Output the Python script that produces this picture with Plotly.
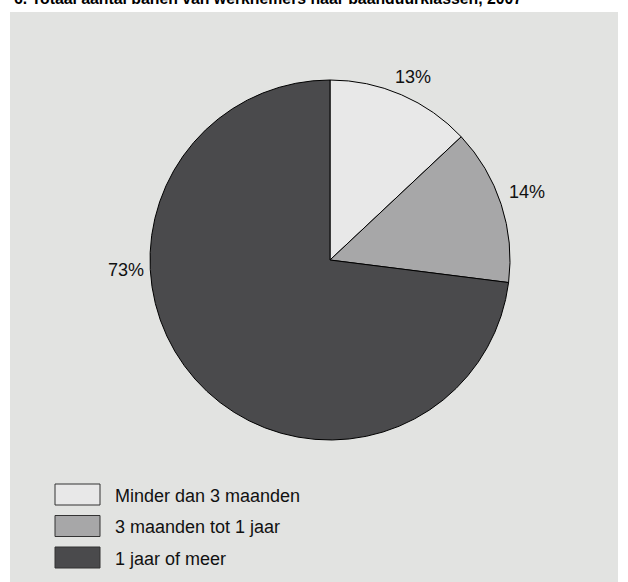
import plotly.graph_objects as go

categories = ["Minder dan 3 maanden", "3 maanden tot 1 jaar", "1 jaar of meer"]
values = [13, 14, 73]
label_text = ["13%", "14%", "73%"]
colors = ["#e8e8e8", "#a7a7a8", "#4a4a4c"]
title_text = "6. Totaal aantal banen van werknemers naar baanduurklassen, 2007"

W, H = 628, 582
FONT = "Liberation Sans, Arial, Helvetica, sans-serif"

fig = go.Figure()
fig.add_trace(go.Pie(
    labels=categories, values=values, sort=False, direction="clockwise",
    rotation=0, marker=dict(colors=colors, line=dict(color="#000000", width=1)),
    textinfo="none", hoverinfo="label+percent", showlegend=False,
    domain=dict(x=[150 / W, 510 / W], y=[1 - 440 / H, 1 - 80 / H]),
))

# gray panel
shapes = [dict(type="rect", xref="paper", yref="paper", x0=10 / W, x1=618 / W,
               y0=0, y1=1 - 12 / H, fillcolor="#e2e3e1", line=dict(width=0), layer="below")]

annotations = [dict(text="<b>" + title_text + "</b>", x=12 / W, y=1 + 1.5 / H, xref="paper", yref="paper",
                    xanchor="left", yanchor="middle", showarrow=False,
                    font=dict(family=FONT, size=15.8, color="#000"))]

# percentage labels
label_pos = [(413, 77), (527, 192), (126, 270)]
for t, (px, py) in zip(label_text, label_pos):
    annotations.append(dict(text=t, x=px / W, y=1 - py / H, xref="paper", yref="paper",
                            xanchor="center", yanchor="middle", showarrow=False,
                            font=dict(family=FONT, size=18, color="#111")))

# manual legend
leg_y = [494.5, 526, 557.5]
for cat, col, cy in zip(categories, colors, leg_y):
    shapes.append(dict(type="rect", xref="paper", yref="paper", x0=55 / W, x1=100 / W,
                       y0=1 - (cy + 10.5) / H, y1=1 - (cy - 10.5) / H,
                       fillcolor=col, line=dict(color="#333", width=1)))
    annotations.append(dict(text=cat, x=113 / W, y=1 - (cy + 1) / H, xref="paper", yref="paper",
                            xanchor="left", yanchor="middle", showarrow=False,
                            font=dict(family=FONT, size=18, color="#111")))

fig.update_layout(
    width=W, height=H, margin=dict(l=0, r=0, t=0, b=0),
    paper_bgcolor="#ffffff", plot_bgcolor="#ffffff",
    shapes=shapes, annotations=annotations, showlegend=False,
)
fig.write_html("out.html", config={"displayModeBar": False},
               post_script="document.body.style.margin='0';document.body.style.overflow='hidden';")
